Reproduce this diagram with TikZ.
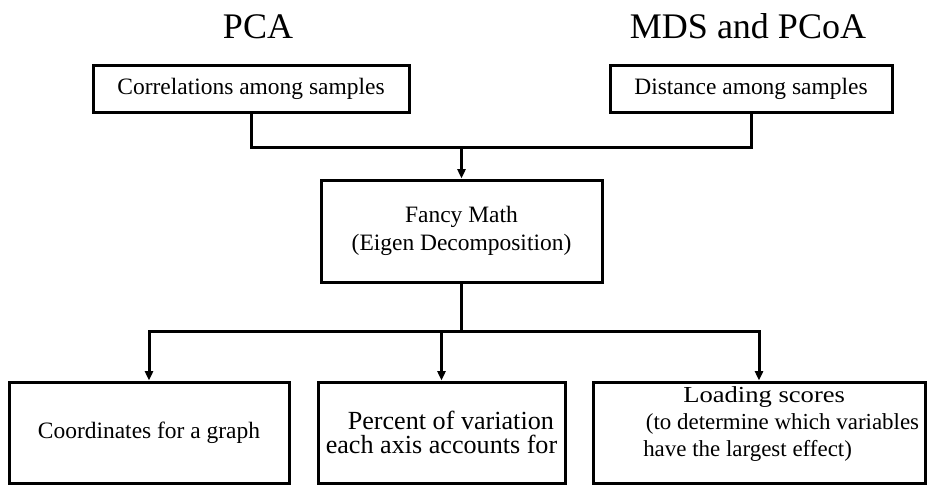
\documentclass[tikz,border=0pt]{standalone}
\usepackage{fontspec}
\setmainfont{Liberation Serif}
\usetikzlibrary{arrows.meta}
\begin{document}
\begin{tikzpicture}[x=0.75pt,y=-0.75pt,
  box/.style={draw, line width=2.25pt, inner sep=0pt, align=center,
    font=\fontsize{17.6}{21}\selectfont},
  title/.style={font=\fontsize{27}{32}\selectfont, anchor=base, inner sep=0pt},
  conn/.style={line width=2.25pt},
  arr/.style={conn, -{Triangle[width=6pt,length=7pt]}}]
\useasboundingbox (0,0) rectangle (935,489);
\node[title] (pca) at (258,38) {PCA};
\node[title] (mds) at (748,38) {MDS and PCoA};
\node[box, minimum width=237pt, minimum height=35.25pt] (tl) at (251,88.5) {Correlations among samples};
\node[box, minimum width=211.5pt, minimum height=35.25pt] (tr) at (751,88.5) {Distance among samples};
\node[box, minimum width=210.75pt, minimum height=76.5pt] (m) at (461.5,231) {Fancy Math\\(Eigen Decomposition)};
\node[box, minimum width=210pt, minimum height=75.75pt] (b1) at (149,432.5) {Coordinates for a graph};
\node[box, minimum width=185.25pt, minimum height=75.75pt, font=\fontsize{19.6}{18.5}\selectfont] (b2) at (441.5,432.5) {\hspace*{14pt}Percent of variation\\each axis accounts for};
\node[box, minimum width=249pt, minimum height=75.75pt] (b3) at (759,432.5) {};
\node[anchor=west, inner sep=0pt, align=left, font=\fontsize{17.2}{19.9}\selectfont] (b3t) at (643,424) {\hspace*{30pt}\scalebox{1.16}[1]{Loading scores}\\\hspace*{2pt}(to determine which variables\\have the largest effect)};
\coordinate (j1) at (0,147);
\coordinate (j2) at (0,331);
\draw[conn] (tl.south) |- (tr.south |- j1) -- (tr.south);
\draw[arr] (m.north |- j1) -- (m.north);
\draw[conn] (m.south) -- (m.south |- j2);
\draw[arr] (b2.north |- j2) -| (b1.north);
\draw[arr] (b2.north |- j2) -| (b3.north);
\draw[arr] (b2.north |- j2) -- (b2.north);
\end{tikzpicture}
\end{document}
